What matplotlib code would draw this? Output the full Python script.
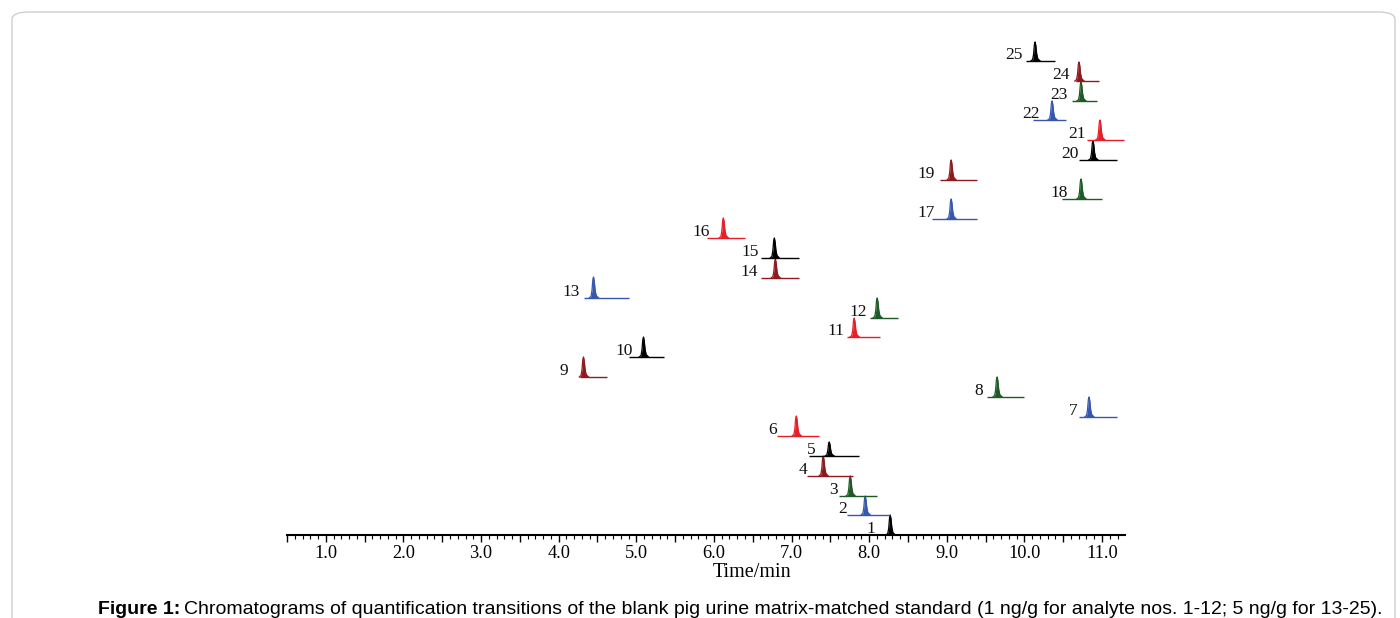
import numpy as np
import matplotlib
matplotlib.use("Agg")
import matplotlib.pyplot as plt
from matplotlib.patches import FancyBboxPatch

# analyte numbers, retention time (min), baseline span (min), vertical offset, peak height
analyte = list(range(1, 26))
peak_rt = [8.272, 7.950, 7.757, 7.409, 7.486, 7.062, 10.833, 9.649, 4.320, 5.093,
           7.808, 8.104, 4.449, 6.792, 6.779, 6.122, 9.057, 10.730, 9.057, 10.884,
           10.974, 10.357, 10.730, 10.704, 10.138]
base_start = [8.117, 7.718, 7.615, 7.203, 7.229, 6.817, 10.704, 9.520, 4.269, 4.912,
              7.718, 8.014, 4.320, 6.611, 6.611, 5.916, 8.812, 10.485, 8.915, 10.704,
              10.807, 10.112, 10.614, 10.665, 10.022]
base_end = [8.696, 8.272, 8.104, 7.795, 7.873, 7.358, 11.193, 9.996, 4.629, 5.363,
            8.143, 8.375, 4.900, 7.100, 7.100, 6.405, 9.391, 11.000, 9.391, 11.193,
            11.283, 10.537, 10.936, 10.961, 10.395]
offset = [0, 20, 39, 59, 79, 99, 118, 138, 158, 178,
          198, 217, 237, 257, 277, 297, 316, 336, 355, 375,
          395, 415, 434, 454, 474]
height = [20, 19, 20, 20, 14, 20, 20, 20, 20, 20,
          19, 20, 21, 19, 20, 20, 20, 20, 20, 19,
          20, 19, 19, 19, 19]
label_x = [8.078, 7.718, 7.602, 7.203, 7.306, 6.817, 10.678, 9.468, 4.127, 4.951,
           7.680, 7.976, 4.269, 6.573, 6.573, 5.942, 8.851, 10.562, 8.851, 10.704,
           10.794, 10.202, 10.562, 10.588, 9.983]
trace_color = ['k', 'b', 'g', 'dr', 'k', 'r', 'b', 'g', 'dr', 'k',
               'r', 'g', 'b', 'dr', 'k', 'r', 'b', 'g', 'dr', 'k',
               'r', 'b', 'g', 'dr', 'k']

# shared peak profile (offset from apex in min, relative height)
shape_dt = [-0.055, -0.032, -0.020, -0.009, 0.0, 0.009, 0.020, 0.034, 0.065]
shape_h = [0.0, 0.08, 0.35, 0.88, 1.0, 0.82, 0.38, 0.12, 0.0]

palette = {'k': '#000000', 'b': '#3557b0', 'g': '#1d5a26', 'dr': '#8e1a1f', 'r': '#e61e28'}

plt.rcParams['font.family'] = ['Liberation Serif', 'DejaVu Serif']

fig = plt.figure(figsize=(14, 6.18), dpi=100)
ax = fig.add_axes([287 / 1400, 1 - 535 / 618, (1125 - 287) / 1400, 500 / 618])

for i in range(len(analyte)):
    c = palette[trace_color[i]]
    y0 = offset[i]
    ax.plot([base_start[i], base_end[i]], [y0, y0], color=c, lw=1.0, solid_capstyle='butt')
    px = np.array(shape_dt) + peak_rt[i]
    py = y0 + np.array(shape_h) * height[i]
    ax.fill_between(px, y0, py, color=c, lw=0)
    ax.plot(px, py, color=c, lw=0.9)
    ax.text(label_x[i], y0 + 2, str(analyte[i]), ha='right', va='baseline',
            fontsize=12.5, color='#111111')

ax.set_xlim(0.511, 11.296)
ax.set_ylim(0, 500)
for s in ['left', 'right', 'top']:
    ax.spines[s].set_visible(False)
ax.spines['bottom'].set_linewidth(1.5)
ax.set_yticks([])
ax.set_xticks(np.arange(0.5, 11.3, 0.5))
ax.set_xticks(np.arange(0.6, 11.3, 0.1), minor=True)
ax.set_xticklabels([f"{v:.1f}" if v % 1 == 0 else "" for v in np.arange(0.5, 11.3, 0.5)])
ax.tick_params(axis='x', which='major', direction='out', length=5, width=1, labelsize=13.2, pad=2.5)
ax.tick_params(axis='x', which='minor', direction='out', length=3, width=0.8)
ax.set_xlabel('Time/min', fontsize=14.5)
ax.xaxis.set_label_coords((752 - 287) / 838, -0.056)

# rounded frame around the figure
frame = FancyBboxPatch((12 / 1400, -0.05), 1383 / 1400, 1 - 12 / 618 + 0.05,
                       boxstyle="round,pad=0,rounding_size=0.012",
                       transform=fig.transFigure, fill=False, ec='#cfcfcf', lw=1)
fig.patches.append(frame)

# caption
t1 = fig.text(98 / 1400, 1 - 609 / 618, 'Figure 1:', fontsize=14, fontweight='bold',
              family=['Liberation Sans', 'DejaVu Sans'], va='center', ha='left')
renderer = fig.canvas.get_renderer()
bb = t1.get_window_extent(renderer)
fig.text(bb.x1 / 1400 + 4 / 1400, 1 - 609 / 618,
         'Chromatograms of quantification transitions of the blank pig urine matrix-matched '
         'standard (1 ng/g for analyte nos. 1-12; 5 ng/g for 13-25).',
         fontsize=14, family=['Liberation Sans', 'DejaVu Sans'], va='center', ha='left')

fig.savefig('out.png', dpi=100)
